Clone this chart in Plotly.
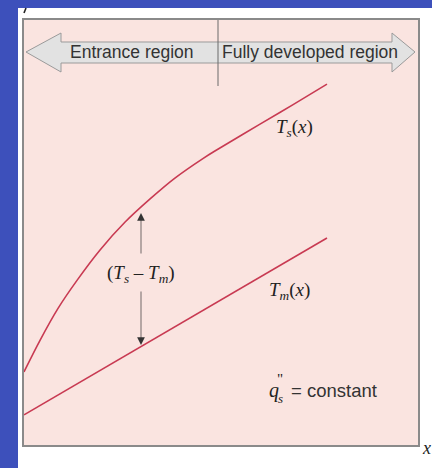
import plotly.graph_objects as go

# ---- data (position along tube, normalised; temperature, normalised) ----
x_ts = [0.0, 0.041, 0.086, 0.135, 0.193, 0.256, 0.320, 0.383, 0.454, 0.492, 0.599, 0.683, 0.769]
t_s = [0.172, 0.247, 0.321, 0.388, 0.459, 0.524, 0.579, 0.628, 0.674, 0.696, 0.755, 0.801, 0.849]
x_tm = [0.0, 0.769]
t_m = [0.071, 0.487]

W, H = 432, 468
L, R, T, B = 24, 14, 20, 23
PW, PH = W - L - R, H - T - B

def px(xp):
    return (xp - L) / PW

def py(yp):
    return (H - B - yp) / PH

RED = "#c83a52"
BLUE = "#3d50bb"
PINK = "#fae4e0"

fig = go.Figure()
fig.add_trace(go.Scatter(x=x_ts, y=t_s, mode="lines", line=dict(color=RED, width=1.6, shape="spline"),
                         hoverinfo="skip"))
fig.add_trace(go.Scatter(x=x_tm, y=t_m, mode="lines", line=dict(color=RED, width=1.6),
                         hoverinfo="skip"))

shapes = []
# blue bands of slide background
shapes.append(dict(type="rect", xref="paper", yref="paper", x0=px(0), x1=px(18), y0=py(H), y1=py(0),
                   fillcolor=BLUE, line=dict(width=0), layer="above"))
shapes.append(dict(type="rect", xref="paper", yref="paper", x0=px(0), x1=px(W), y0=py(8), y1=py(0),
                   fillcolor=BLUE, line=dict(width=0), layer="above"))
# double block arrow
pts = [(26, 52), (61, 33), (61, 42), (392, 42), (392, 33), (415, 52), (392, 72), (392, 63), (61, 63), (61, 72)]
path = "M " + " L ".join(f"{px(a):.5f},{py(b):.5f}" for a, b in pts) + " Z"
shapes.append(dict(type="path", xref="paper", yref="paper", path=path, fillcolor="#e2e2e2",
                   line=dict(color="#9a9a9a", width=1), layer="above"))
# divider
shapes.append(dict(type="line", xref="paper", yref="paper", x0=px(218), x1=px(218), y0=py(20), y1=py(86),
                   line=dict(color="#6a6a6a", width=1), layer="above"))
# remnant of the T axis label
shapes.append(dict(type="line", xref="paper", yref="paper", x0=px(24), x1=px(26), y0=py(13), y1=py(8),
                   line=dict(color="#222", width=1.6), layer="above"))

SERIF = "Liberation Serif"
SANS = "Liberation Sans"
ann = []

def text(xp, yp, s, family, size, color="#222", xanchor="center"):
    ann.append(dict(x=px(xp), y=py(yp), xref="paper", yref="paper", text=s, showarrow=False,
                    font=dict(family=family, size=size, color=color), xanchor=xanchor, yanchor="middle"))

text(132, 52, "Entrance region", SANS, 17.5, "#333")
text(310, 52, "Fully developed region", SANS, 17.5, "#333")
text(294, 128, "<i>T</i><sub><i>s</i></sub>(<i>x</i>)", SERIF, 19)
text(289, 291, "<i>T</i><sub><i>m</i></sub>(<i>x</i>)", SERIF, 19)
text(141, 274, "(<i>T</i><sub><i>s</i></sub> – <i>T</i><sub><i>m</i></sub>)", SERIF, 19)
text(273.5, 390, "<i>q</i>", SERIF, 20)
text(280, 398, "<i>s</i>", SERIF, 13)
text(279.5, 379, "\"", SERIF, 15)
text(334, 390, "= constant", SANS, 18.5, "#333")
text(427, 448, "<i>x</i>", SERIF, 18)

# (Ts - Tm) indicator arrows (axes span [0,1] exactly like the plot area)
for tip, tail in [(213, 255), (345, 290)]:
    ann.append(dict(x=px(141), y=py(tip), ax=px(141), ay=py(tail), xref="x", yref="y",
                    axref="x", ayref="y", text="", showarrow=True, arrowhead=2,
                    arrowsize=2.2, arrowwidth=0.7, arrowcolor="#333"))

fig.update_layout(
    width=W, height=H, margin=dict(l=L, r=R, t=T, b=B),
    paper_bgcolor="white", plot_bgcolor=PINK, showlegend=False,
    shapes=shapes, annotations=ann,
    xaxis=dict(range=[0, 1], showgrid=False, zeroline=False, showticklabels=False, ticks="",
               showline=True, mirror=True, linecolor="#8a8a8a", linewidth=1.5, fixedrange=True),
    yaxis=dict(range=[0, 1], showgrid=False, zeroline=False, showticklabels=False, ticks="",
               showline=True, mirror=True, linecolor="#8a8a8a", linewidth=1.5, fixedrange=True),
)

fig.write_html("out.html", config={"displayModeBar": False},
               post_script="document.body.style.margin='0';")
